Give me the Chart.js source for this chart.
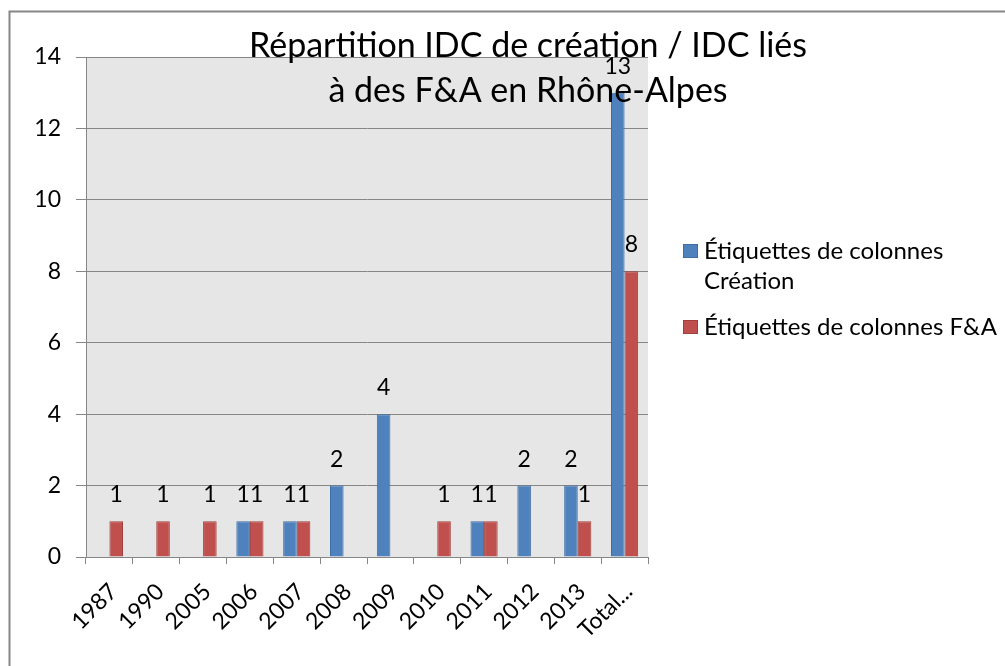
<!DOCTYPE html>
<html>
<head>
<meta charset="utf-8">
<script src="https://cdn.jsdelivr.net/npm/chart.js@4"></script>
<style>
  html, body { margin: 0; padding: 0; background: #fff; }
  #wrap { position: relative; width: 1005px; height: 666px; }
</style>
</head>
<body>
<div id="wrap"><canvas id="chart" width="1005" height="666"></canvas></div>
<script>
// ── Données ───────────────────────────────────────────────────
const categories   = ['1987', '1990', '2005', '2006', '2007', '2008', '2009', '2010', '2011', '2012', '2013', 'Total...'];
const creation     = [null, null, null, 1, 1, 2, 4, null, 1, 2, 2, 13];
const fusionsAcq   = [1, 1, 1, 1, 1, null, null, 1, 1, null, 1, 8];
const seriesLabels = ['Étiquettes de colonnes Création', 'Étiquettes de colonnes F&A'];
const titleLines   = ['Répartition IDC de création / IDC liés', 'à des F&A en Rhône-Alpes'];
const yTicks       = { min: 0, max: 14, step: 2 };

const FONT = 'Lato, "Open Sans", sans-serif';
const GRID = '#868686';

// fond gris de la zone de tracé + cadre extérieur
const fondPlugin = {
  id: 'fond',
  beforeDraw(chart) {
    const { ctx, chartArea: a } = chart;
    ctx.save();
    ctx.fillStyle = '#e6e6e6';
    ctx.fillRect(a.left, a.top, a.right - a.left, a.bottom - a.top);
    ctx.strokeStyle = GRID;
    ctx.lineWidth = 2;
    ctx.beginPath();
    ctx.moveTo(9.5, 700);
    ctx.lineTo(9.5, 11.5);
    ctx.lineTo(1010, 11.5);
    ctx.stroke();
    ctx.restore();
  }
};

// étiquettes de valeurs au-dessus des barres
const etiquettesPlugin = {
  id: 'etiquettes',
  afterDatasetsDraw(chart) {
    const { ctx } = chart;
    ctx.save();
    ctx.font = '23px ' + FONT;
    ctx.fillStyle = '#000';
    ctx.textAlign = 'center';
    ctx.textBaseline = 'alphabetic';
    chart.data.datasets.forEach((ds, i) => {
      chart.getDatasetMeta(i).data.forEach((bar, j) => {
        const v = ds.data[j];
        if (v == null) return;
        ctx.fillText(String(v), bar.x, bar.y - 19);
      });
    });
    ctx.restore();
  }
};

// titre (superposé à la zone de tracé, comme dans Excel) + légende à droite
const titreLegendePlugin = {
  id: 'titreLegende',
  afterDraw(chart) {
    const { ctx } = chart;
    ctx.save();
    ctx.fillStyle = '#000';
    ctx.font = '34px ' + FONT;
    ctx.textAlign = 'center';
    ctx.fillText(titleLines[0], 528, 57);
    ctx.fillText(titleLines[1], 528, 102);

    ctx.font = '24px ' + FONT;
    ctx.textAlign = 'left';
    ctx.textBaseline = 'middle';
    const maxW = 1005 - 704 - 1;
    let y = 251;
    chart.data.datasets.forEach(ds => {
      ctx.fillStyle = ds.backgroundColor;
      ctx.fillRect(683, y - 7, 15, 14);
      ctx.strokeStyle = ds.borderColor;
      ctx.lineWidth = 1;
      ctx.strokeRect(683.5, y - 6.5, 14, 13);
      // retour à la ligne simple
      const lignes = [];
      let cur = '';
      ds.label.split(' ').forEach(w => {
        const test = cur ? cur + ' ' + w : w;
        if (ctx.measureText(test).width > maxW && cur) { lignes.push(cur); cur = w; }
        else cur = test;
      });
      lignes.push(cur);
      ctx.fillStyle = '#000';
      lignes.forEach((l, k) => ctx.fillText(l, 704, y + k * 30));
      y += (lignes.length - 1) * 30 + 46;
    });
    ctx.restore();
  }
};

new Chart(document.getElementById('chart'), {
  type: 'bar',
  data: {
    labels: categories,
    datasets: [
      { label: seriesLabels[0], data: creation,   backgroundColor: '#4f81bd', borderColor: '#3f6ea5', borderWidth: 1 },
      { label: seriesLabels[1], data: fusionsAcq, backgroundColor: '#c0504d', borderColor: '#a03f3c', borderWidth: 1 }
    ]
  },
  options: {
    responsive: false,
    animation: false,
    layout: { padding: { top: 57, right: 357, bottom: 0, left: 0 } },
    datasets: { bar: { categoryPercentage: 0.58, barPercentage: 1 } },
    plugins: {
      legend: { display: false },
      title: { display: false },
      tooltip: { enabled: false }
    },
    scales: {
      x: {
        afterFit: s => { s.height = 109; },
        grid: { offset: true, drawOnChartArea: false, drawTicks: true, tickLength: 7, color: GRID },
        border: { color: GRID, width: 1 },
        ticks: { color: '#000', font: { family: FONT, size: 23 }, minRotation: 45, maxRotation: 45, autoSkip: false, padding: 14, labelOffset: 4 }
      },
      y: {
        min: yTicks.min, max: yTicks.max,
        afterFit: s => { s.width = 86; },
        grid: { color: GRID, tickLength: 10 },
        border: { color: GRID, width: 1 },
        ticks: { stepSize: yTicks.step, color: '#000', font: { family: FONT, size: 23 }, padding: 15 }
      }
    }
  },
  plugins: [fondPlugin, etiquettesPlugin, titreLegendePlugin]
});
</script>
</body>
</html>
